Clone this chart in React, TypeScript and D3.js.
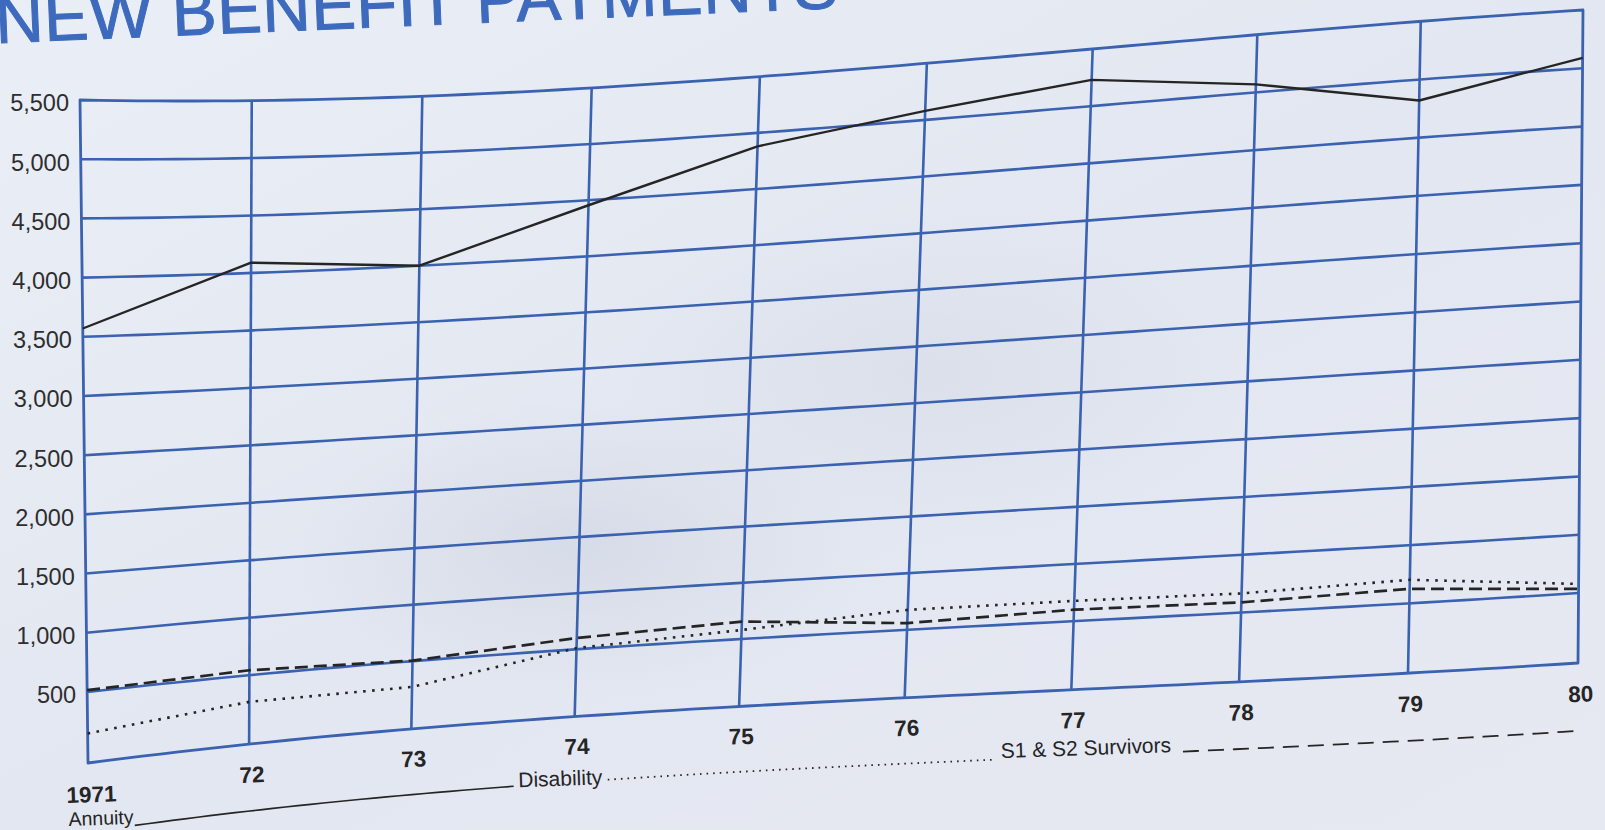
import React, { useEffect } from 'react';
import * as d3 from 'd3';

// ---------- data ----------
const years = [1971, 1972, 1973, 1974, 1975, 1976, 1977, 1978, 1979, 1980];
const yearLabels = ['1971', '72', '73', '74', '75', '76', '77', '78', '79', '80'];
const annuity = [3570, 4090, 4000, 4455, 4880, 5080, 5230, 5070, 4820, 5090];
const disability = [150, 268, 272, 510, 580, 676, 677, 665, 702, 578];
const survivors = [515, 543, 505, 600, 655, 559, 600, 588, 624, 535];
const yTicks = [500, 1000, 1500, 2000, 2500, 3000, 3500, 4000, 4500, 5000, 5500];
const seriesNames = ['Annuity', 'Disability', 'S1 & S2 Survivors'];
const titleText = 'NEW BENEFIT PAYMENTS';

// ---------- layout ----------
const W = 1605;
const H = 830;
const GRID = '#3a62b0';
const INK = '#252525';

// The chart is a photographed page: a gentle perspective / lens bend.
// u in [0,1] runs along the years, v in [0,1] runs from the frame bottom to its top.
function topEdge(u: number): [number, number] {
  return [80 + 1503 * u + 48 * u * (1 - u), 100 - 90 * u + 121 * u * (1 - u) * (1 - u)];
}
function bottomEdge(u: number): [number, number] {
  return [88 + 1490 * u - 45 * u * (1 - u), 763 - 100 * u - 88 * u * (1 - u) * (1 - u)];
}
function warp(u: number, v: number): [number, number] {
  const b = bottomEdge(u);
  const t = topEdge(u);
  return [b[0] + (t[0] - b[0]) * v, b[1] + (t[1] - b[1]) * v];
}

// legend placement (in u / v page units)
const legendTextU = [-0.014, 0.296, 0.621];
const legendTextV = [-0.08, -0.094, -0.09];
const LEGEND_LINE_V = -0.104;
const legendLineU: [number, number][] = [[0.032, 0.293], [0.357, 0.618], [0.742, 0.999]];
const legendFontSize = [19.5, 21, 21];
const YEAR_LABEL_V = -0.047;

export default function App() {
  useEffect(() => {
    document.body.style.margin = '0';
    document.body.style.background = '#e5e9f2';
  }, []);

  const x = d3.scaleLinear().domain([years[0], years[years.length - 1]]).range([0, 1]);
  const y = d3.scaleLinear().domain([-100, 5500]).range([0, 1]);
  const line = d3.line();
  const samples = d3.range(0, 1.00001, 1 / 80);

  const hPath = (v: number) => line(samples.map((u) => warp(u, v))) as string;
  const segPath = (u0: number, u1: number, v: number) =>
    line(d3.range(0, 1.00001, 1 / 30).map((t) => warp(u0 + (u1 - u0) * t, v))) as string;

  const framePath =
    (line(samples.map((u) => warp(u, 1))) as string) +
    'L' + warp(1, 0).join(',') +
    (line(samples.slice().reverse().map((u) => warp(u, 0))) as string).replace(/^M/, 'L') +
    'Z';

  const seriesPath = (vals: number[]) =>
    line(years.map((yr, i) => warp(x(yr), y(vals[i])))) as string;

  const series = [
    { name: seriesNames[0], vals: annuity, dash: undefined as string | undefined, w: 2.4, legendDash: undefined as string | undefined, lw: 1.7 },
    { name: seriesNames[1], vals: disability, dash: '2.6 6.4', w: 2.6, legendDash: '1.6 5', lw: 1.8 },
    { name: seriesNames[2], vals: survivors, dash: '13 6', w: 2.7, legendDash: '16 9', lw: 1.8 },
  ];

  const font = "'Liberation Sans', Arial, Helvetica, sans-serif";

  return (
    <svg width={W} height={H} viewBox={`0 0 ${W} ${H}`} style={{ position: 'absolute', left: 0, top: 0, display: 'block' }}>
      <defs>
        <radialGradient id="shade1" cx="0.36" cy="0.66" r="0.18">
          <stop offset="0" stopColor="#c9d0de" stopOpacity="0.5" />
          <stop offset="1" stopColor="#c9d0de" stopOpacity="0" />
        </radialGradient>
        <radialGradient id="shade2" cx="0.58" cy="0.45" r="0.2">
          <stop offset="0" stopColor="#cfd5e2" stopOpacity="0.4" />
          <stop offset="1" stopColor="#cfd5e2" stopOpacity="0" />
        </radialGradient>
        <linearGradient id="paper" x1="0" y1="0" x2="1" y2="1">
          <stop offset="0" stopColor="#eaeef6" />
          <stop offset="0.5" stopColor="#e3e7f1" />
          <stop offset="1" stopColor="#e6e9f2" />
        </linearGradient>
      </defs>
      <rect x={0} y={0} width={W} height={H} fill="url(#paper)" />
      <rect x={0} y={0} width={W} height={H} fill="url(#shade1)" />
      <rect x={0} y={0} width={W} height={H} fill="url(#shade2)" />

      {/* title, mostly cut off by the top of the photograph */}
      <text
        x={-4}
        y={43}
        transform="rotate(-2.4 0 43)"
        fontFamily={font}
        fontSize={67}
        fill="#3d6abd"
        stroke="#3d6abd"
        strokeWidth={1}
        letterSpacing={0.5}
      >
        {titleText}
      </text>

      {/* grid */}
      <g fill="none" stroke={GRID} strokeWidth={2.6} strokeLinejoin="round">
        {yTicks.slice(0, -1).map((t) => (
          <path key={'h' + t} d={hPath(y(t))} />
        ))}
        {years.slice(1, -1).map((yr) => (
          <path key={'v' + yr} d={line([warp(x(yr), 0), warp(x(yr), 1)]) as string} />
        ))}
        <path d={framePath} strokeWidth={2.8} />
      </g>

      {/* y axis labels */}
      <g fontFamily={font} fontSize={23.5} fill="#2e2e2e">
        {yTicks.map((t) => {
          const [px, py] = warp(0, y(t));
          return (
            <text key={'yl' + t} x={px - 11} y={py + 3} dy="0.36em" textAnchor="end">
              {d3.format(',')(t)}
            </text>
          );
        })}
      </g>

      {/* x axis labels */}
      <g fontFamily={font} fontSize={22.5} fontWeight="bold" fill={INK}>
        {years.map((yr, i) => {
          const [px, py] = warp(x(yr), YEAR_LABEL_V);
          return (
            <text key={'xl' + yr} x={px + 3} y={py} dy="0.36em" textAnchor="middle" transform={`rotate(-2 ${px + 3} ${py})`}>
              {yearLabels[i]}
            </text>
          );
        })}
      </g>

      {/* series */}
      <g fill="none" stroke={INK} strokeLinejoin="round">
        {series.map((s) => (
          <path key={s.name} d={seriesPath(s.vals)} strokeWidth={s.w} strokeDasharray={s.dash} />
        ))}
      </g>

      {/* legend */}
      <g fontFamily={font} fill={INK}>
        {series.map((s, i) => {
          const [tx, ty] = warp(legendTextU[i], legendTextV[i]);
          return (
            <g key={'lg' + s.name}>
              <text x={tx} y={ty} dy="0.36em" fontSize={legendFontSize[i]} transform={`rotate(-2 ${tx} ${ty})`}>
                {s.name}
              </text>
              <path
                d={segPath(legendLineU[i][0], legendLineU[i][1], LEGEND_LINE_V)}
                fill="none"
                stroke={INK}
                strokeWidth={s.lw}
                strokeDasharray={s.legendDash}
              />
            </g>
          );
        })}
      </g>
    </svg>
  );
}
